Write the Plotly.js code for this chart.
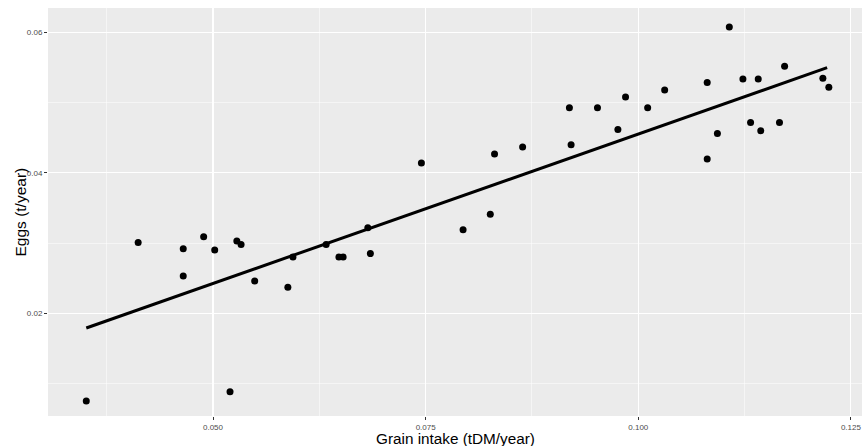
<!DOCTYPE html>
<html>
<head>
<meta charset="utf-8">
<script src="https://cdn.plot.ly/plotly-3.0.1.min.js"></script>
<style>html,body{margin:0;padding:0;background:#fff;}#chart{width:864px;height:446px;}</style>
</head>
<body>
<div id="chart"></div>
<script>
// Grain intake (tDM/year)
const grainIntake = [0.0351, 0.0412, 0.0465, 0.0465, 0.0489, 0.0502, 0.0528, 0.0533, 0.0520, 0.0549,
  0.0588, 0.0594, 0.0633, 0.0648, 0.0653, 0.0685, 0.0682, 0.0745, 0.0794, 0.0826,
  0.0831, 0.0864, 0.0919, 0.0921, 0.0952, 0.0976, 0.0985, 0.1011, 0.1031, 0.1081,
  0.1081, 0.1093, 0.1107, 0.1123, 0.1132, 0.1141, 0.1144, 0.1166, 0.1172, 0.1217, 0.1224];
// Eggs (t/year)
const eggs = [0.0075, 0.0301, 0.0292, 0.0253, 0.0309, 0.0290, 0.0303, 0.0298, 0.0088, 0.0246,
  0.0237, 0.0280, 0.0298, 0.0280, 0.0280, 0.0285, 0.0322, 0.0414, 0.0319, 0.0341,
  0.0427, 0.0437, 0.0493, 0.0440, 0.0493, 0.0462, 0.0508, 0.0493, 0.0518, 0.0529,
  0.0420, 0.0456, 0.0608, 0.0534, 0.0472, 0.0534, 0.0460, 0.0472, 0.0552, 0.0535, 0.0522];
// Fitted linear trend (endpoints)
const fitX = [0.0351, 0.1222];
const fitY = [0.0179, 0.0550];

const xTicks = [0.050, 0.075, 0.100, 0.125];
const xTickText = ['0.050', '0.075', '0.100', '0.125'];
const yTicks = [0.02, 0.04, 0.06];
const yTickText = ['0.02', '0.04', '0.06'];

const titleText = 'Hen eggs versus grain intake (2018)';
const xTitle = 'Grain intake (tDM/year)';
const yTitle = 'Eggs (t/year)';

const traces = [
  {x: grainIntake, y: eggs, type: 'scatter', mode: 'markers',
   marker: {color: '#000', size: 7}, hoverinfo: 'x+y'},
  {x: fitX, y: fitY, type: 'scatter', mode: 'lines',
   line: {color: '#000', width: 3}, hoverinfo: 'skip'}
];

const layout = {
  width: 864, height: 446,
  margin: {l: 48, r: 2, t: 8, b: 30},
  paper_bgcolor: '#fff', plot_bgcolor: '#EBEBEB',
  showlegend: false,
  font: {family: 'Liberation Sans, Arial, sans-serif', color: '#000'},
  xaxis: {
    range: [0.0306, 0.1263], tickvals: xTicks, ticktext: xTickText,
    showgrid: true, gridcolor: '#fff', gridwidth: 1.1, zeroline: false, showline: false,
    ticks: 'outside', ticklen: 3, tickcolor: '#333', tickwidth: 1,
    tickfont: {size: 8, color: '#4d4d4d'},
    minor: {tickvals: [0.0375, 0.0625, 0.0875, 0.1125], showgrid: true, gridcolor: '#fff', gridwidth: 0.5, ticks: ''}
  },
  yaxis: {
    range: [0.00536, 0.0635], tickvals: yTicks, ticktext: yTickText,
    showgrid: true, gridcolor: '#fff', gridwidth: 1.1, zeroline: false, showline: false,
    ticks: 'outside', ticklen: 3, tickcolor: '#333', tickwidth: 1,
    tickfont: {size: 8, color: '#4d4d4d'},
    minor: {tickvals: [0.01, 0.03, 0.05], showgrid: true, gridcolor: '#fff', gridwidth: 0.5, ticks: ''}
  },
  annotations: [
    {text: titleText, xref: 'paper', yref: 'paper', x: 0.545, y: 1, xanchor: 'center', yanchor: 'bottom',
     yshift: 6, showarrow: false, font: {size: 19, color: '#000'}},
    {text: xTitle, xref: 'paper', yref: 'paper', x: 0.5, y: 0, xanchor: 'center', yanchor: 'top',
     yshift: -12, showarrow: false, font: {size: 15.3, color: '#000'}},
    {text: yTitle, xref: 'paper', yref: 'paper', x: 0, y: 0.5, xanchor: 'right', yanchor: 'middle',
     xshift: -18, textangle: -90, showarrow: false, font: {size: 15.5, color: '#000'}}
  ]
};

Plotly.newPlot('chart', traces, layout, {displayModeBar: false, staticPlot: true});
</script>
</body>
</html>
